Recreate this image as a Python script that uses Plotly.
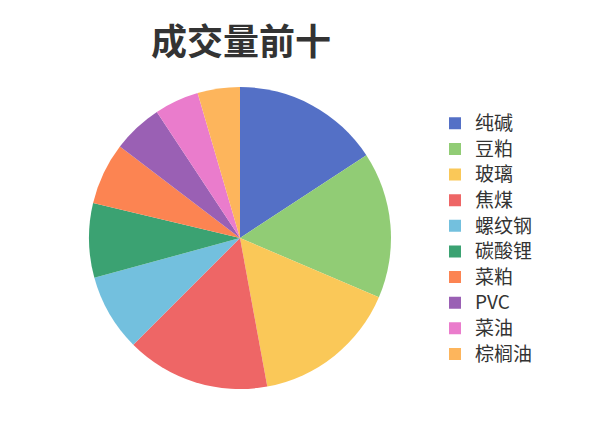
import plotly.graph_objects as go

# DATA
labels = ["纯碱", "豆粕", "玻璃", "焦煤", "螺纹钢", "碳酸锂", "菜粕", "PVC", "菜油", "棕榈油"]
volumes = [1578, 1564, 1569, 1539, 825, 797, 664, 536, 475, 453]

# COLORS
COLORS = ['#5470c6', '#91cc75', '#fac858', '#ee6666', '#73c0de',
          '#3ba272', '#fc8452', '#9a60b4', '#ea7ccc', '#fdb55c']
TEXT_COLOR = '#333333'
FONT = 'Noto Sans CJK SC'

W, H = 600, 428
PAD = 8  # browser body margin, positions below are page pixels


def px_x(x):
    return (x - PAD) / W


def px_y(y):
    return 1 - (y - PAD) / H


# slightly bigger glyphs in the legend, spacing kept from the legend font
legend_labels = ['<span style="font-size:19px">%s</span>' % l for l in labels]

fig = go.Figure()
fig.add_trace(go.Pie(
    labels=legend_labels, values=volumes,
    sort=False, direction='clockwise', rotation=0,
    marker=dict(colors=COLORS, line=dict(width=0)),
    textinfo='none',
    domain=dict(x=[px_x(89), px_x(391)], y=[px_y(389), px_y(87)]),
))

fig.update_layout(
    width=W, height=H,
    margin=dict(l=0, r=0, t=0, b=0),
    paper_bgcolor='white', plot_bgcolor='white',
    font=dict(family=FONT, color=TEXT_COLOR),
    title=dict(text='<b>成交量前十</b>', xref='paper', yref='paper',
               x=px_x(241), xanchor='center', y=px_y(42), yanchor='middle',
               font=dict(size=36, color=TEXT_COLOR, family=FONT)),
    legend=dict(x=px_x(435), xanchor='left', y=px_y(239), yanchor='middle',
                itemwidth=30,
                font=dict(size=17.4, color=TEXT_COLOR, family=FONT),
                bgcolor='rgba(0,0,0,0)'),
)

fig.write_html("out.html")
